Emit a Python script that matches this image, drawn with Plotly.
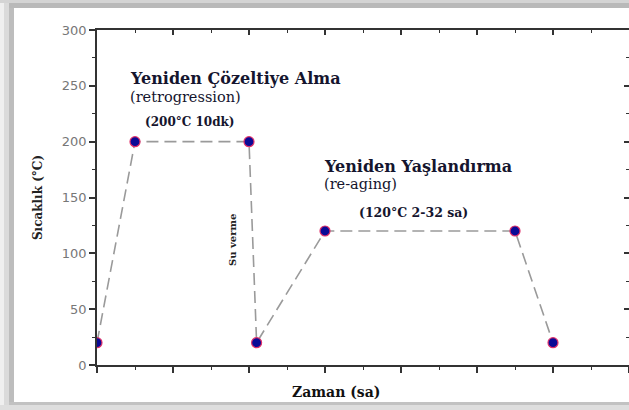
import plotly.graph_objects as go

# Data
time_vals = [0, 0.5, 2.0, 2.1, 3.0, 5.5, 6.0]
temp_vals = [20, 200, 200, 20, 120, 120, 20]
y_ticks = [0, 50, 100, 150, 200, 250, 300]

SERIF = "DejaVu Serif, serif"
SANS = "DejaVu Sans, Arial, sans-serif"

fig = go.Figure()
fig.add_trace(go.Scatter(
    x=time_vals, y=temp_vals, mode="lines+markers",
    line=dict(color="#9a9a9a", width=1.6, dash="12px,6px"),
    marker=dict(color="#0a0a96", size=10, line=dict(color="#e0306a", width=1.2)),
    showlegend=False, hoverinfo="skip",
))
# helper trace to activate mirrored axes
fig.add_trace(go.Scatter(
    x=time_vals, y=temp_vals, xaxis="x2", yaxis="y2", mode="markers",
    marker=dict(size=1, opacity=0), showlegend=False, hoverinfo="skip",
))

axcol = "#333333"
fig.update_layout(
    width=629, height=410,
    margin=dict(l=97, r=0, t=30, b=45),
    paper_bgcolor="white", plot_bgcolor="white",
    xaxis=dict(range=[0, 7], dtick=1, tick0=0, showticklabels=False, automargin=False,
               ticks="outside", ticklen=6, tickwidth=1.5, tickcolor=axcol,
               minor=dict(dtick=0.5, ticks="outside", ticklen=3, tickcolor=axcol, tickwidth=1.2),
               showline=True, linecolor=axcol, linewidth=1.8, showgrid=False, zeroline=False),
    xaxis2=dict(range=[0, 7], dtick=1, tick0=0, overlaying="x", side="top", showticklabels=False,
                automargin=False,
                ticks="inside", ticklen=5, tickwidth=1.5, tickcolor=axcol,
                minor=dict(dtick=0.5, ticks="inside", ticklen=3, tickcolor=axcol, tickwidth=1.2),
                showline=True, linecolor=axcol, linewidth=1.8, showgrid=False, zeroline=False),
    yaxis=dict(range=[0, 300], tickvals=y_ticks, ticktext=[str(v) for v in y_ticks], automargin=False,
               ticks="outside", ticklen=6, tickwidth=1.5, tickcolor=axcol,
               minor=dict(dtick=25, ticks="outside", ticklen=3, tickcolor=axcol, tickwidth=1.2),
               tickfont=dict(family=SANS, size=13, color="#777777"),
               showline=True, linecolor=axcol, linewidth=1.8, showgrid=False, zeroline=False,
               title=dict(text="<b>Sıcaklık (°C)</b>", font=dict(family=SERIF, size=12, color="#222"), standoff=16)),
    yaxis2=dict(range=[0, 300], dtick=50, tick0=0, overlaying="y", side="right", showticklabels=False,
                automargin=False,
                ticks="inside", ticklen=5, tickwidth=1.5, tickcolor=axcol,
                minor=dict(dtick=25, ticks="inside", ticklen=3, tickcolor=axcol, tickwidth=1.2),
                showline=False, showgrid=False, zeroline=False),
)

# gray frame around the picture (pixel -> paper conversion)
L, T, PW, PH = 97, 30, 532, 335
def px(xp):
    return (xp - L) / PW
def py(yp):
    return 1 - (yp - T) / PH

bands = [
    (0, 0, 4, 410, "#efefef"), (4, 0, 9, 410, "#dadada"), (9, 8, 14, 402, "#bdbdbd"),
    (0, 0, 629, 3, "#d4d4d4"), (9, 3, 629, 8, "#b9b9b9"),
    (9, 402, 629, 405, "#c2c2c2"), (0, 405, 629, 410, "#dedede"),
]
for x0, y0, x1, y1, c in bands:
    fig.add_shape(type="rect", xref="paper", yref="paper",
                  x0=px(x0), x1=px(x1), y0=py(y1), y1=py(y0),
                  fillcolor=c, line=dict(width=0), layer="below")

tc = "#15152e"
ann = [
    (0.41, 257, "<b>Yeniden Çözeltiye Alma</b>", 16),
    (0.41, 240, "(retrogression)", 14.5),
    (0.6, 218, "<b>(200°C 10dk)</b>", 12),
    (2.96, 178, "<b>Yeniden Yaşlandırma</b>", 16),
    (2.96, 162, "(re-aging)", 14.5),
    (3.42, 137, "<b>(120°C 2-32 sa)</b>", 12.5),
]
for x, y, t, s in ann:
    fig.add_annotation(x=x, y=y, xref="x", yref="y", text=t, showarrow=False,
                       xanchor="left", yanchor="middle",
                       font=dict(family=SERIF, size=s, color=tc))
fig.add_annotation(x=1.79, y=112, xref="x", yref="y", text="<b>Su verme</b>", showarrow=False,
                   textangle=-90, font=dict(family=SERIF, size=10, color="#222"))
# x-axis title (placed off-centre as in the original)
fig.add_annotation(x=3.14, y=py(392), xref="x", yref="paper", text="<b>Zaman (sa)</b>",
                   showarrow=False, xanchor="center", yanchor="middle",
                   font=dict(family=SERIF, size=14, color="#111"))

fig.write_html("out.html", config={"displayModeBar": False},
               post_script="document.body.style.margin='0';document.body.style.overflow='hidden';")
